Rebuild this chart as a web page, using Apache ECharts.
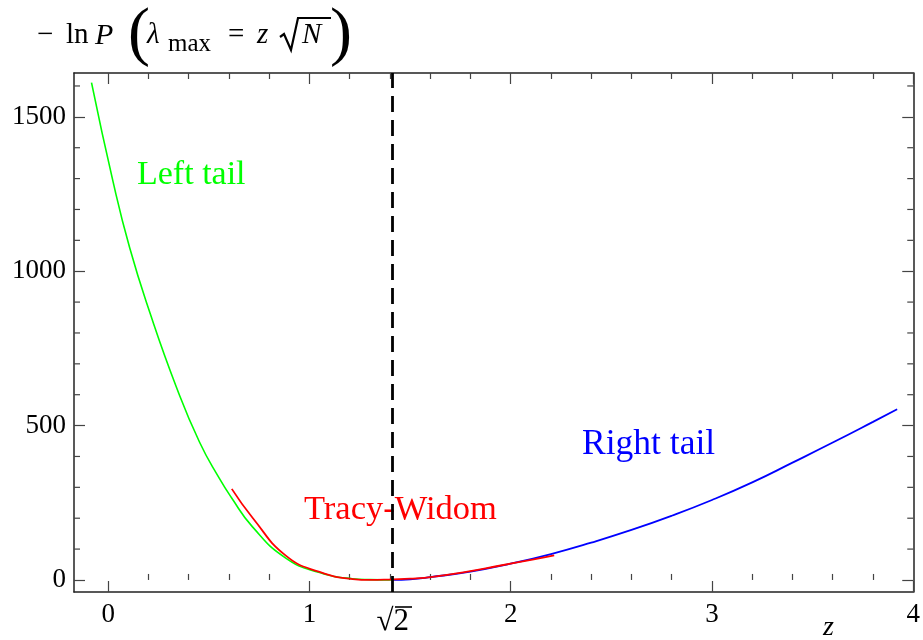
<!DOCTYPE html>
<html>
<head>
<meta charset="utf-8">
<script src="https://cdn.jsdelivr.net/npm/echarts@6/dist/echarts.min.js"></script>
<style>
html,body{margin:0;padding:0;background:#fff;}
#chart{width:923px;height:640px;}
</style>
</head>
<body>
<div id="chart"></div>
<script>
// ---- data ----
const leftTailZ = [-0.083, 0.024, 0.107, 0.206, 0.338, 0.454, 0.553, 0.611, 0.717, 0.884, 1.05, 1.213, 1.3, 1.414];
const leftTailV = [1611, 1290, 1075, 868, 626, 446, 328, 268, 172, 70, 24, 4, 1, 0];

const tracyWidomZ = [0.614, 0.719, 0.884, 1.05, 1.215, 1.30, 1.414, 1.5, 1.612, 1.778, 1.943, 2.108, 2.216];
const tracyWidomV = [295, 200, 78, 26, 3, 0, 2, 4, 10, 26, 46, 66, 80];

const rightTailZ = [1.414, 1.5, 1.6, 1.8, 2.0, 2.2, 2.4, 2.6, 2.8, 3.0, 3.2, 3.4, 3.6, 3.8, 3.92];
const rightTailV = [0, 2, 9, 27, 53, 84, 121, 162, 208, 259, 316, 380, 445, 512, 553];

const edgeZ = Math.SQRT2;

// axis ticks / labels
const xMin = -0.17, xMax = 4.0;
const yMin = -39, yMax = 1642;
const xMajor = [0, 1, 2, 3, 4];
const xMinor = [0.2, 0.4, 0.6, 0.8, 1.2, 1.4, 1.6, 1.8, 2.2, 2.4, 2.6, 2.8, 3.2, 3.4, 3.6, 3.8];
const yMajor = [0, 500, 1000, 1500];
const yMinor = [100, 200, 300, 400, 600, 700, 800, 900, 1100, 1200, 1300, 1400, 1600];

const zip = (a, b) => a.map((v, i) => [v, b[i]]);

const SERIF = '"Liberation Serif","DejaVu Serif",serif';
const frameColor = '#222';
const tickColor = '#444';

function xAx(opts) {
  return Object.assign({
    type: 'value', min: xMin, max: xMax, offset: 0,
    axisLine: {show: false}, axisTick: {show: false}, axisLabel: {show: false},
    splitLine: {show: false}
  }, opts);
}
function yAx(opts) {
  return Object.assign({
    type: 'value', min: yMin, max: yMax, offset: 0,
    axisLine: {show: false}, axisTick: {show: false}, axisLabel: {show: false},
    splitLine: {show: false}
  }, opts);
}
const lblStyle = {fontFamily: SERIF, fontSize: 27, color: '#000', formatter: v => String(v)};

const chart = echarts.init(document.getElementById('chart'), null, {renderer: 'canvas'});
chart.setOption({
  animation: false,
  backgroundColor: '#fff',
  grid: {left: 74, right: 9, top: 73, bottom: 48},
  xAxis: [
    xAx({position: 'bottom',
      axisLine: {show: true, onZero: false, lineStyle: {color: frameColor, width: 1.5}},
      axisTick: {show: true, inside: true, length: 11, customValues: xMajor, lineStyle: {color: tickColor, width: 1.2}},
      axisLabel: Object.assign({show: true, customValues: xMajor, margin: 9}, lblStyle)}),
    xAx({position: 'bottom',
      axisTick: {show: true, inside: true, length: 6, customValues: xMinor, lineStyle: {color: tickColor, width: 1.2}}}),
    xAx({position: 'bottom',
      axisLabel: Object.assign({}, lblStyle, {show: true, customValues: [edgeZ], margin: 14, fontSize: 31, formatter: () => '√2'})}),
    xAx({position: 'top',
      axisLine: {show: true, onZero: false, lineStyle: {color: frameColor, width: 1.5}},
      axisTick: {show: true, inside: true, length: 11, customValues: xMajor, lineStyle: {color: tickColor, width: 1.2}}}),
    xAx({position: 'top',
      axisTick: {show: true, inside: true, length: 6, customValues: xMinor, lineStyle: {color: tickColor, width: 1.2}}})
  ],
  yAxis: [
    yAx({position: 'left',
      axisLine: {show: true, onZero: false, lineStyle: {color: frameColor, width: 1.5}},
      axisTick: {show: true, inside: true, length: 11, customValues: yMajor, lineStyle: {color: tickColor, width: 1.2}},
      axisLabel: Object.assign({show: true, customValues: yMajor, margin: 8}, lblStyle)}),
    yAx({position: 'right',
      axisLine: {show: true, onZero: false, lineStyle: {color: frameColor, width: 1.5}},
      axisTick: {show: true, inside: true, length: 11, customValues: yMajor, lineStyle: {color: tickColor, width: 1.2}}})
  ],
  series: [
    {
      // minor ticks of the y axes (left and right frame sides)
      name: 'yMinorTicks', type: 'custom', silent: true, clip: false,
      xAxisIndex: 0, yAxisIndex: 0,
      data: yMinor.map(v => [v]),
      encode: {y: 0},
      renderItem: function (params, api) {
        const v = api.value(0);
        const l = api.coord([xMin, v]);
        const r = api.coord([xMax, v]);
        const st = {stroke: tickColor, lineWidth: 1.2};
        return {
          type: 'group',
          children: [
            {type: 'line', shape: {x1: l[0], y1: l[1], x2: l[0] + 6, y2: l[1]}, style: st},
            {type: 'line', shape: {x1: r[0] - 6, y1: r[1], x2: r[0], y2: r[1]}, style: st}
          ]
        };
      }
    },
    {
      name: 'Left tail', type: 'line', data: zip(leftTailZ, leftTailV),
      showSymbol: false, smooth: 0.5,
      lineStyle: {color: '#00ff00', width: 1.6}, z: 3
    },
    {
      name: 'Right tail', type: 'line', data: zip(rightTailZ, rightTailV),
      showSymbol: false, smooth: 0.5,
      lineStyle: {color: '#0000ff', width: 1.8}, z: 3
    },
    {
      name: 'Tracy-Widom', type: 'line', data: zip(tracyWidomZ, tracyWidomV),
      showSymbol: false, smooth: 0.5,
      lineStyle: {color: '#ff0000', width: 1.8}, z: 4,
      markLine: {
        silent: true, symbol: ['none', 'none'], label: {show: false},
        lineStyle: {color: '#000', width: 2.8, type: [16, 8]},
        data: [{xAxis: edgeZ}]
      }
    }
  ],
  graphic: [
    // curve labels
    {type: 'text', left: 137, top: 158, style: {text: 'Left tail', font: '34px ' + SERIF, fill: '#00ff00'}},
    {type: 'text', left: 304, top: 492, style: {text: 'Tracy-Widom', font: '34.5px ' + SERIF, fill: '#ff0000'}},
    {type: 'text', left: 582, top: 427, style: {text: 'Right tail', font: '35.5px ' + SERIF, fill: '#0000ff'}},
    // vinculum of the √2 tick label
    {type: 'line', shape: {x1: 395, y1: 607, x2: 412, y2: 607}, style: {stroke: '#000', lineWidth: 1.6}},
    // axis name
    {type: 'text', left: 823, top: 614, style: {text: 'z', font: 'italic 28px ' + SERIF, fill: '#000'}},
    // title: − ln P ( λ_max = z √N )
    {type: 'text', left: 37, top: 21, style: {text: '−', font: '29px ' + SERIF, fill: '#000'}},
    {type: 'text', left: 66, top: 21, style: {text: 'ln', font: '29px ' + SERIF, fill: '#000'}},
    {type: 'text', left: 95, top: 21, style: {text: 'P', font: 'italic 30px ' + SERIF, fill: '#000'}},
    {type: 'text', left: 128, top: 3, style: {text: '(', font: '66px ' + SERIF, fill: '#000'}},
    {type: 'text', left: 147, top: 21, style: {text: 'λ', font: 'italic 29px ' + SERIF, fill: '#000'}},
    {type: 'text', left: 168, top: 32, style: {text: 'max', font: '25px ' + SERIF, fill: '#000'}},
    {type: 'text', left: 228, top: 21, style: {text: '=', font: '29px ' + SERIF, fill: '#000'}},
    {type: 'text', left: 257, top: 21, style: {text: 'z', font: 'italic 29px ' + SERIF, fill: '#000'}},
    // radical sign with vinculum over N
    {type: 'polyline', shape: {points: [[280, 37], [284, 34], [291, 50], [298, 18], [331, 18]]},
      style: {stroke: '#000', fill: null, lineWidth: 2.2, lineJoin: 'miter'}},
    {type: 'text', left: 302, top: 21, style: {text: 'N', font: 'italic 29px ' + SERIF, fill: '#000'}},
    {type: 'text', left: 330, top: 3, style: {text: ')', font: '66px ' + SERIF, fill: '#000'}}
  ]
});
</script>
</body>
</html>
